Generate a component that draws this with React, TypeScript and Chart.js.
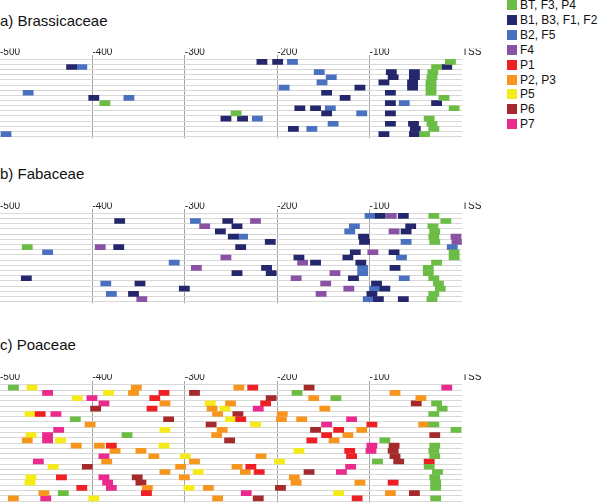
import React, { useEffect, useRef } from 'react';
import { Chart, registerables } from 'chart.js';

Chart.register(...registerables);

// ---------- data (each entry: [row, motif start position relative to TSS]) ----------
const xTickValues = [-500, -400, -300, -200, -100, 0];
const tssLabel = 'TSS';
const motifLength = 11;

const classLabels = ['BT, F3, P4', 'B1, B3, F1, F2', 'B2, F5', 'F4', 'P1', 'P2, P3', 'P5', 'P6', 'P7'];
const classColors = ['#6bbd45', '#25276d', '#4a70c0', '#8a52a5', '#ee1f25', '#f7961e', '#f5eb1a', '#a52a2c', '#ea2a8d'];

// a) Brassicaceae — 15 promoters
const rowsA = 15;
const aGreen = [[0, -18], [1, -33], [2, -37], [3, -38], [4, -39], [5, -39], [6, -39], [7, -25], [8, -392], [9, -14], [10, -250], [11, -41], [12, -38], [13, -36], [14, -46]];
const aNavy = [[0, -222], [0, -205], [1, -428], [1, -22], [2, -82], [2, -57], [3, -80], [3, -57], [4, -90], [4, -59], [5, -116], [5, -59], [6, -152], [6, -83], [7, -404], [7, -132], [8, -83], [8, -33], [9, -181], [9, -164], [10, -152], [10, -83], [11, -261], [11, -243], [12, -83], [12, -58], [13, -188], [13, -56], [14, -90], [14, -57]];
const aBlue = [[0, -189], [1, -417], [2, -160], [3, -147], [4, -157], [5, -198], [6, -475], [7, -366], [8, -68], [9, -148], [10, -114], [11, -227], [12, -145], [13, -168], [14, -499]];

// b) Fabaceae — 17 promoters
const rowsB = 17;
const bGreen = [[0, -36], [1, -23], [2, -37], [3, -35], [4, -36], [5, -35], [6, -476], [7, -14], [8, -14], [9, -33], [10, -42], [11, -42], [12, -36], [13, -31], [14, -29], [15, -36], [16, -38]];
const bNavy = [[0, -94], [0, -69], [1, -376], [1, -259], [2, -249], [2, -61], [3, -267], [3, -66], [4, -253], [4, -112], [5, -213], [5, -111], [6, -377], [6, -245], [7, -121], [7, -79], [8, -182], [8, -129], [9, -164], [9, -115], [10, -217], [10, -78], [11, -249], [11, -212], [12, -477], [12, -123], [13, -354], [13, -98], [14, -306], [14, -89], [15, -361], [15, -103], [16, -96], [16, -69]];
const bBlue = [[0, -105], [1, -294], [2, -122], [3, -127], [4, -243], [5, -66], [6, -16], [7, -454], [8, -71], [9, -317], [10, -113], [11, -113], [12, -68], [13, -391], [14, -100], [15, -385], [16, -107]];
const bPurple = [[0, -82], [1, -229], [2, -284], [3, -79], [4, -12], [5, -11], [6, -397], [7, -102], [8, -261], [9, -178], [10, -293], [11, -143], [12, -185], [13, -153], [14, -128], [15, -158], [16, -352]];

// c) Poaceae — 22 promoters visible
const rowsC = 22;
const cGreen = [[0, -491], [1, -184], [2, -142], [3, -33], [4, -27], [5, -36], [6, -424], [7, -36], [8, -12], [9, -368], [10, -89], [11, -35], [12, -36], [13, -35], [14, -97], [15, -41], [16, -32], [17, -35], [18, -34], [19, -34], [20, -437], [21, -34]];
const cRed = [[0, -232], [1, -328], [2, -338], [3, -218], [4, -341], [5, -462], [6, -245], [7, -103], [8, -139], [9, -152], [10, -168], [11, -385], [12, -127], [13, -125], [14, -41], [15, -234], [16, -225], [17, -439], [18, -80], [19, -417], [20, -347], [21, -119]];
const cOrange = [[0, -358], [0, -247], [1, -361], [1, -78], [2, -166], [2, -50], [3, -327], [3, -256], [4, -276], [4, -154], [5, -270], [5, -200], [6, -201], [6, -179], [7, -408], [7, -47], [8, -265], [8, -114], [9, -271], [9, -129], [10, -476], [10, -144], [11, -423], [11, -398], [12, -381], [12, -353], [13, -339], [13, -223], [14, -390], [14, -295], [15, -310], [15, -249], [16, -327], [16, -240], [17, -306], [17, -187], [18, -185], [18, -116], [19, -346], [19, -280], [20, -458], [20, -83], [21, -491], [21, -270]];
const cYellow = [[0, -471], [1, -388], [2, -422], [3, -278], [4, -262], [5, -473], [6, -256], [7, -229], [8, -327], [9, -472], [10, -440], [11, -328], [12, -182], [13, -305], [14, -203], [15, -448], [16, -291], [17, -472], [18, -473], [19, -301], [20, -139], [21, -404]];
const cDarkRed = [[0, -171], [1, -295], [2, -212], [3, -55], [4, -402], [5, -248], [6, -323], [7, -277], [8, -164], [9, -35], [10, -257], [11, -79], [12, -80], [13, -78], [14, -74], [15, -411], [16, -171], [17, -357], [18, -353], [19, -202], [20, -57], [21, -226]];
const cPink = [[0, -22], [1, -454], [2, -406], [3, -393], [4, -226], [5, -445], [6, -125], [7, -152], [8, -442], [9, -454], [10, -454], [11, -103], [12, -104], [13, -393], [14, -464], [15, -126], [16, -136], [17, -393], [18, -389], [19, -385], [20, -239], [21, -456]];

// ---------- layout constants ----------
const FONT = '"Liberation Sans", Arial, Helvetica, sans-serif';
const ROW_H = 5.53;
const TOP_EXTRA = 0.69;
const BOTTOM_EXTRA = 0.27;
const TICK_LINE_H = 0.7; // tick label line height (in em) -> 7px box for 10px font
const AXIS_H = 10 * TICK_LINE_H; // Chart.js: label height + 2 * padding (padding = 0)
const EXTRA_TOP = 3;
const CANVAS_W = 500;
const PAD_RIGHT = 38;

type Series = { cls: number; data: number[][] };

function PanelChart({ rows, row0Y, series }: { rows: number; row0Y: number; series: Series[] }) {
  const ref = useRef<HTMLCanvasElement>(null);
  const areaTop = row0Y - TOP_EXTRA * ROW_H;
  const canvasTop = Math.floor(areaTop - AXIS_H - EXTRA_TOP);
  const padTop = areaTop - AXIS_H - canvasTop;
  const areaH = (rows - 1 + TOP_EXTRA + BOTTOM_EXTRA) * ROW_H;
  const canvasH = Math.ceil(padTop + AXIS_H + areaH);
  const padBottom = canvasH - padTop - AXIS_H - areaH;

  useEffect(() => {
    if (!ref.current) return;
    const rowIdx = Array.from({ length: rows }, (_, i) => i);
    const chart = new Chart(ref.current, {
      type: 'bar',
      data: {
        datasets: series.map((s) => ({
          label: classLabels[s.cls],
          data: s.data.map(([r, x]) => ({ y: r, x: [x, x + motifLength] })),
          backgroundColor: classColors[s.cls],
          borderWidth: 0,
          barThickness: 5,
          grouped: false,
        })) as any,
      },
      options: {
        indexAxis: 'y',
        responsive: false,
        maintainAspectRatio: false,
        animation: false,
        events: [],
        devicePixelRatio: 1,
        layout: { padding: { left: 0, right: PAD_RIGHT, top: padTop, bottom: padBottom } },
        plugins: {
          legend: { display: false },
          tooltip: { enabled: false },
          title: { display: false },
        },
        scales: {
          x: {
            type: 'linear',
            position: 'top',
            min: -500,
            max: 0,
            afterBuildTicks: (scale: any) => {
              scale.ticks = xTickValues.map((v) => ({ value: v }));
            },
            ticks: {
              align: 'start',
              padding: 0,
              autoSkip: false,
              maxRotation: 0,
              color: '#222',
              font: { family: FONT, size: 10, lineHeight: TICK_LINE_H },
              callback: (v: any) => (Number(v) === 0 ? tssLabel : String(v)),
            },
            grid: {
              drawTicks: false,
              lineWidth: 1,
              color: (ctx: any) =>
                ctx.tick && (ctx.tick.value === -500 || ctx.tick.value === 0) ? 'rgba(0,0,0,0)' : '#a3a3a3',
            },
            border: { display: false },
          },
          y: {
            type: 'linear',
            reverse: true,
            min: -TOP_EXTRA,
            max: rows - 1 + BOTTOM_EXTRA,
            afterBuildTicks: (scale: any) => {
              scale.ticks = rowIdx.map((v) => ({ value: v }));
            },
            ticks: { display: false },
            grid: { drawTicks: false, lineWidth: 1, color: '#d8d8d8' },
            border: { display: false },
          },
        },
      } as any,
    });
    return () => chart.destroy();
  }, []);

  return (
    <div style={{ position: 'absolute', left: 0, top: canvasTop, width: CANVAS_W, height: canvasH }}>
      <canvas ref={ref} width={CANVAS_W} height={canvasH} style={{ display: 'block', width: CANVAS_W, height: canvasH }} />
    </div>
  );
}

function Title({ text, baseline }: { text: string; baseline: number }) {
  return (
    <div
      style={{
        position: 'absolute',
        left: 0,
        top: baseline - 12.7,
        fontSize: 15,
        lineHeight: '15px',
        color: '#111',
        whiteSpace: 'nowrap',
      }}
    >
      {text}
    </div>
  );
}

function Legend() {
  return (
    <>
      {classLabels.map((label, i) => {
        const c = 5.2 + 14.87 * i;
        return (
          <React.Fragment key={label}>
            <div
              style={{
                position: 'absolute',
                left: 507,
                top: c - 5,
                width: 10,
                height: 10,
                background: classColors[i],
              }}
            />
            <div
              style={{
                position: 'absolute',
                left: 520,
                top: c - 6,
                fontSize: 12,
                lineHeight: '12px',
                color: '#111',
                whiteSpace: 'nowrap',
              }}
            >
              {label}
            </div>
          </React.Fragment>
        );
      })}
    </>
  );
}

export default function App() {
  return (
    <div
      style={{
        position: 'absolute',
        left: 0,
        top: 0,
        width: 600,
        height: 504,
        overflow: 'hidden',
        background: '#fff',
        fontFamily: FONT,
      }}
    >
      <Title text="a) Brassicaceae" baseline={26} />
      <Title text="b) Fabaceae" baseline={179} />
      <Title text="c) Poaceae" baseline={350} />
      <PanelChart
        rows={rowsA}
        row0Y={59.3}
        series={[
          { cls: 0, data: aGreen },
          { cls: 1, data: aNavy },
          { cls: 2, data: aBlue },
        ]}
      />
      <PanelChart
        rows={rowsB}
        row0Y={213.3}
        series={[
          { cls: 0, data: bGreen },
          { cls: 1, data: bNavy },
          { cls: 2, data: bBlue },
          { cls: 3, data: bPurple },
        ]}
      />
      <PanelChart
        rows={rowsC}
        row0Y={385}
        series={[
          { cls: 0, data: cGreen },
          { cls: 4, data: cRed },
          { cls: 5, data: cOrange },
          { cls: 6, data: cYellow },
          { cls: 7, data: cDarkRed },
          { cls: 8, data: cPink },
        ]}
      />
      <Legend />
    </div>
  );
}
